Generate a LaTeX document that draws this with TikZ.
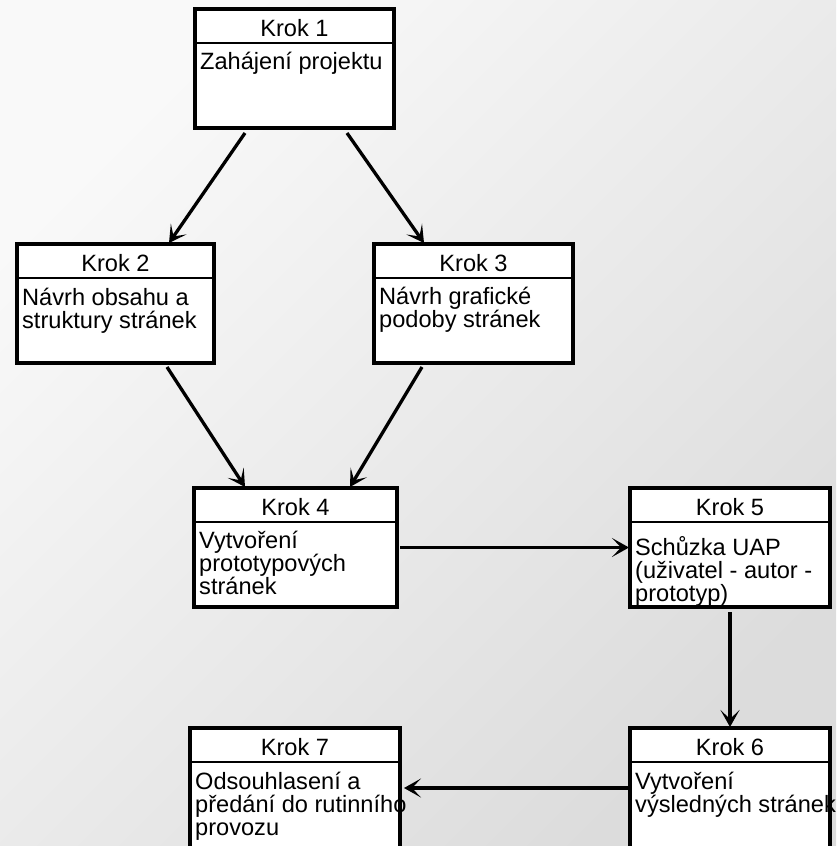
\documentclass[tikz,border=0pt]{standalone}
\usepackage{fontspec}
\setmainfont{Liberation Sans}
\usetikzlibrary{arrows.meta,calc}
\definecolor{bglight}{HTML}{F9F9F9}
\definecolor{bgdark}{HTML}{DCDCDC}
\newcommand\stepfont{\fontsize{23.6pt}{23pt}\selectfont}
\newcommand\bodystrut{\rule{0pt}{20pt}}

\begin{document}
\begin{tikzpicture}[x=1pt,y=-1pt,
  stepbox/.style={draw=black, fill=white, line width=3.3pt, inner sep=0pt, outer sep=0pt},
  headrule/.style={line width=1.7pt},
  steptitle/.style={anchor=base, font=\stepfont, inner sep=0pt},
  stepbody/.style={anchor=north west, align=left, font=\stepfont, inner sep=0pt},
  flow/.style={line width=3.3pt, -{Stealth[length=17pt,width=19pt,inset=9pt]}}]
\useasboundingbox (0,0) rectangle (836,846);
\clip (0,0) rectangle (836,846);
\shade[top color=bglight, bottom color=bgdark, shading angle=45] (0,0) rectangle (836,846);

% step boxes
\node[stepbox, minimum width=199pt, minimum height=119pt] (b1) at (294.5,68.5) {};
\node[stepbox, minimum width=197pt, minimum height=119pt] (b2) at (115.5,303.5) {};
\node[stepbox, minimum width=199pt, minimum height=119pt] (b3) at (473.5,303.5) {};
\node[stepbox, minimum width=203pt, minimum height=119pt] (b4) at (295.5,547.5) {};
\node[stepbox, minimum width=200pt, minimum height=119pt] (b5) at (730,547.5) {};
\node[stepbox, minimum width=200pt, minimum height=144pt] (b6) at (730,800) {};
\node[stepbox, minimum width=210pt, minimum height=144pt] (b7) at (295,800) {};

% header separators
\foreach \b in {b1,b2,b3,b4,b5,b6,b7}
  \draw[headrule] ($(\b.north west)+(0,34)$) -- ($(\b.north east)+(0,34)$);

% titles
\node[steptitle] (t1) at ($(b1.north)+(0,27)$) {Krok 1};
\node[steptitle] (t2) at ($(b2.north)+(0,27)$) {Krok 2};
\node[steptitle] (t3) at ($(b3.north)+(0,27)$) {Krok 3};
\node[steptitle] (t4) at ($(b4.north)+(0,27)$) {Krok 4};
\node[steptitle] (t5) at ($(b5.north)+(0,27)$) {Krok 5};
\node[steptitle] (t6) at ($(b6.north)+(0,27)$) {Krok 6};
\node[steptitle] (t7) at ($(b7.north)+(0,27)$) {Krok 7};

% descriptions
\node[stepbody] (d1) at ($(b1.north west)+(5,40)$) {\bodystrut Zahájení projektu};
\node[stepbody] (d2) at ($(b2.north west)+(5,41)$) {\bodystrut Návrh obsahu a\\struktury stránek};
\node[stepbody] (d3) at ($(b3.north west)+(5,40)$) {\bodystrut Návrh grafické\\podoby stránek};
\node[stepbody] (d4) at ($(b4.north west)+(5,40)$) {\bodystrut Vytvoření\\prototypových\\stránek};
\node[stepbody] (d5) at ($(b5.north west)+(5,47)$) {\bodystrut Schůzka UAP\\(uživatel - autor -\\prototyp)};
\node[stepbody] (d6) at ($(b6.north west)+(5,41)$) {\bodystrut Vytvoření\\výsledných stránek};
\node[stepbody] (d7) at ($(b7.north west)+(5,41)$) {\bodystrut Odsouhlasení a\\předání do rutinního\\provozu};

% flow
\draw[flow] ($(b1.south west)+(50,5)$) -- ($(b2.north west)+(152,-1)$);
\draw[flow] ($(b1.south east)+(-47,5)$) -- ($(b3.north west)+(50,-1)$);
\draw[flow] ($(b2.south west)+(150,4)$) -- ($(b4.north west)+(51,-1)$);
\draw[flow] ($(b3.south west)+(48,4)$) -- ($(b4.north east)+(-47,-1)$);
\draw[flow] ($(b4.east)+(3,0)$) -- ($(b5.west)+(-1,0)$);
\draw[flow] ($(b5.south)+(0,5)$) -- ($(b6.north)+(0,-1)$);
\draw[flow] ($(b6.north west)+(-1,60)$) -- ($(b7.north east)+(4,60)$);
\end{tikzpicture}
\end{document}
